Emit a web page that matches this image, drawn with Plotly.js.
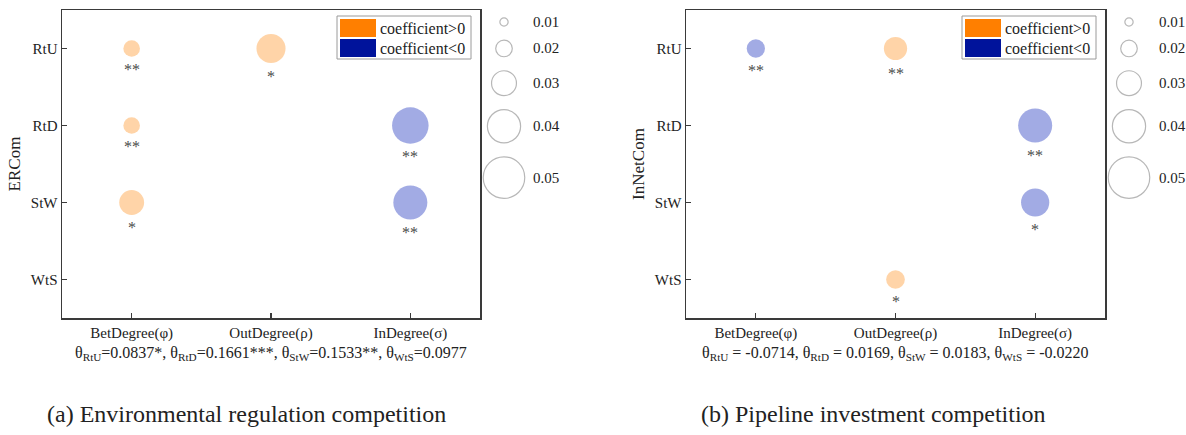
<!DOCTYPE html>
<html>
<head>
<meta charset="utf-8">
<script src="https://cdn.plot.ly/plotly-3.0.1.min.js"></script>
<style>html,body{margin:0;padding:0;background:#fff;}</style>
</head>
<body>
<div id="chart" style="width:1186px;height:435px;"></div>
<script>
// ---------- data ----------
const xCategories = ['BetDegree(φ)', 'OutDegree(ρ)', 'InDegree(σ)'];
const yCategories = ['RtU', 'RtD', 'StW', 'WtS'];

// panel (a) Environmental regulation competition
const aX    = ['BetDegree(φ)', 'BetDegree(φ)', 'BetDegree(φ)', 'OutDegree(ρ)', 'InDegree(σ)', 'InDegree(σ)'];
const aY    = ['RtU', 'RtD', 'StW', 'RtU', 'RtD', 'StW'];
const aCoef = [0.020, 0.020, 0.030, 0.035, -0.044, -0.041];
const aSig  = ['**', '**', '*', '*', '**', '**'];
const aTheta = ['0.0837*', '0.1661***', '0.1533**', '0.0977'];

// panel (b) Pipeline investment competition
const bX    = ['BetDegree(φ)', 'OutDegree(ρ)', 'InDegree(σ)', 'InDegree(σ)', 'OutDegree(ρ)'];
const bY    = ['RtU', 'RtU', 'RtD', 'StW', 'WtS'];
const bCoef = [-0.022, 0.028, -0.041, -0.034, 0.0225];
const bSig  = ['**', '**', '**', '*', '*'];
const bTheta = ['-0.0714', '0.0169', '0.0183', '-0.0220'];

const thetaKeys = ['RtU', 'RtD', 'StW', 'WtS'];
const sizeLegend = [0.01, 0.02, 0.03, 0.04, 0.05];
const yTitles = ['ERCom', 'InNetCom'];
const captions = ['(a) Environmental regulation competition', '(b) Pipeline investment competition'];

// ---------- style / layout helpers ----------
const W = 1186, H = 435;
const px = v => v / W;
const py = v => 1 - v / H;
const DIAM = 830;               // px of diameter per unit of |coefficient|
const POS = '#FFC283', NEG = '#7A88D9';
const POS_KEY = '#FF7F00', NEG_KEY = '#00139B';
const SERIF = 'Liberation Serif';
const AXC = '#3a3a3a';

const panels = [
  {x: aX, y: aY, c: aCoef, s: aSig, theta: aTheta, sep: '=', xa: 'x', ya: 'y',
   left: 62, right: 480, legL: 337, sizeCx: 504, sizeLab: 531, yTitle: yTitles[0], cap: captions[0], capX: 246},
  {x: bX, y: bY, c: bCoef, s: bSig, theta: bTheta, sep: ' = ', xa: 'x2', ya: 'y2',
   left: 686, right: 1105, legL: 962, sizeCx: 1129, sizeLab: 1157, yTitle: yTitles[1], cap: captions[1], capX: 874}
];

const traces = [], annotations = [], shapes = [];
const layout = {
  width: W, height: H,
  margin: {l: 0, r: 0, t: 0, b: 0},
  paper_bgcolor: '#fff', plot_bgcolor: 'rgba(0,0,0,0)',
  showlegend: false,
  font: {family: SERIF, size: 15, color: '#222'}
};

panels.forEach((p, i) => {
  const n = i === 0 ? '' : '2';
  const axCommon = {
    type: 'category', showline: true, mirror: true, linecolor: AXC, linewidth: 1.5,
    ticks: 'inside', ticklen: 5, tickcolor: AXC, tickwidth: 1.2,
    showgrid: false, zeroline: false, fixedrange: true,
    tickfont: {family: SERIF, size: 15, color: '#222'}
  };
  layout['xaxis' + n] = Object.assign({}, axCommon, {
    domain: [px(p.left), px(p.right)], anchor: 'y' + n,
    categoryorder: 'array', categoryarray: xCategories, range: [-0.5, 2.5]
  });
  layout['yaxis' + n] = Object.assign({}, axCommon, {
    domain: [py(318), py(10)], anchor: 'x' + n,
    categoryorder: 'array', categoryarray: yCategories, range: [3.5, -0.5],
    title: {text: p.yTitle, font: {family: SERIF, size: 17, color: '#222'}, standoff: 6}
  });

  traces.push({
    type: 'scatter', mode: 'markers', xaxis: p.xa, yaxis: p.ya,
    x: p.x, y: p.y,
    marker: {
      size: p.c.map(Math.abs), sizemode: 'diameter', sizeref: 1 / DIAM,
      color: p.c.map(v => v > 0 ? POS : NEG), line: {width: 0}
    },
    hoverinfo: 'x+y+text', text: p.c.map(String)
  });

  // significance stars under each bubble
  p.c.forEach((v, k) => {
    annotations.push({
      xref: p.xa, yref: p.ya, x: p.x[k], y: p.y[k], text: p.s[k],
      showarrow: false, yanchor: 'middle', yshift: -(Math.abs(v) * DIAM / 2 + 13),
      font: {family: SERIF, size: 16, color: '#4a4a4a'}
    });
  });

  // colour key box
  const L = p.legL;
  shapes.push({type: 'rect', xref: 'paper', yref: 'paper', x0: px(L), x1: px(L + 134), y0: py(59), y1: py(16),
               line: {color: '#9a9a9a', width: 1}, fillcolor: '#fff', layer: 'above'});
  shapes.push({type: 'rect', xref: 'paper', yref: 'paper', x0: px(L + 3), x1: px(L + 39), y0: py(37), y1: py(19),
               line: {width: 0}, fillcolor: POS_KEY, layer: 'above'});
  shapes.push({type: 'rect', xref: 'paper', yref: 'paper', x0: px(L + 3), x1: px(L + 39), y0: py(57), y1: py(39),
               line: {width: 0}, fillcolor: NEG_KEY, layer: 'above'});
  [['coefficient&gt;0', 28], ['coefficient&lt;0', 48]].forEach(([t, yy]) => {
    annotations.push({xref: 'paper', yref: 'paper', x: px(L + 41), y: py(yy), xanchor: 'left', yanchor: 'middle',
                      text: t, showarrow: false, font: {family: SERIF, size: 16, color: '#222'}});
  });

  // size legend (own pixel-scaled axes)
  const sn = String(3 + i);
  layout['xaxis' + sn] = {domain: [px(p.sizeCx - 30), px(p.sizeCx + 30)], range: [-30, 30], visible: false,
                          anchor: 'y' + sn, fixedrange: true};
  layout['yaxis' + sn] = {domain: [0, 1], range: [H, 0], visible: false, anchor: 'x' + sn, fixedrange: true};
  const ys = [];
  sizeLegend.forEach((v, k) => {
    if (k === 0) ys.push(22);
    else ys.push(ys[k - 1] + (sizeLegend[k - 1] + v) * DIAM / 2 + 14);
  });
  traces.push({
    type: 'scatter', mode: 'markers', xaxis: 'x' + sn, yaxis: 'y' + sn, cliponaxis: false,
    x: sizeLegend.map(() => 0), y: ys,
    marker: {size: sizeLegend, sizemode: 'diameter', sizeref: 1 / DIAM,
             color: 'rgba(255,255,255,0)', line: {color: '#9a9a9a', width: 1.2}},
    hoverinfo: 'skip'
  });
  sizeLegend.forEach((v, k) => {
    annotations.push({xref: 'paper', yref: 'y' + sn, x: px(p.sizeLab), y: ys[k], xanchor: 'left', yanchor: 'middle',
                      text: v.toFixed(2), showarrow: false, font: {family: SERIF, size: 15, color: '#222'}});
  });

  // theta line
  const thetaText = thetaKeys.map((k, j) => 'θ<sub>' + k + '</sub>' + p.sep + p.theta[j]).join(', ');
  annotations.push({xref: 'paper', yref: 'paper', x: px((p.left + p.right) / 2), y: py(353),
                    xanchor: 'center', yanchor: 'middle', text: thetaText, showarrow: false,
                    font: {family: SERIF, size: 16, color: '#222'}});

  // caption
  annotations.push({xref: 'paper', yref: 'paper', x: px(p.capX), y: py(414), xanchor: 'center', yanchor: 'middle',
                    text: p.cap, showarrow: false, font: {family: SERIF, size: 24, color: '#222'}});
});

layout.annotations = annotations;
layout.shapes = shapes;

Plotly.newPlot('chart', traces, layout, {displayModeBar: false, staticPlot: true});
</script>
</body>
</html>
